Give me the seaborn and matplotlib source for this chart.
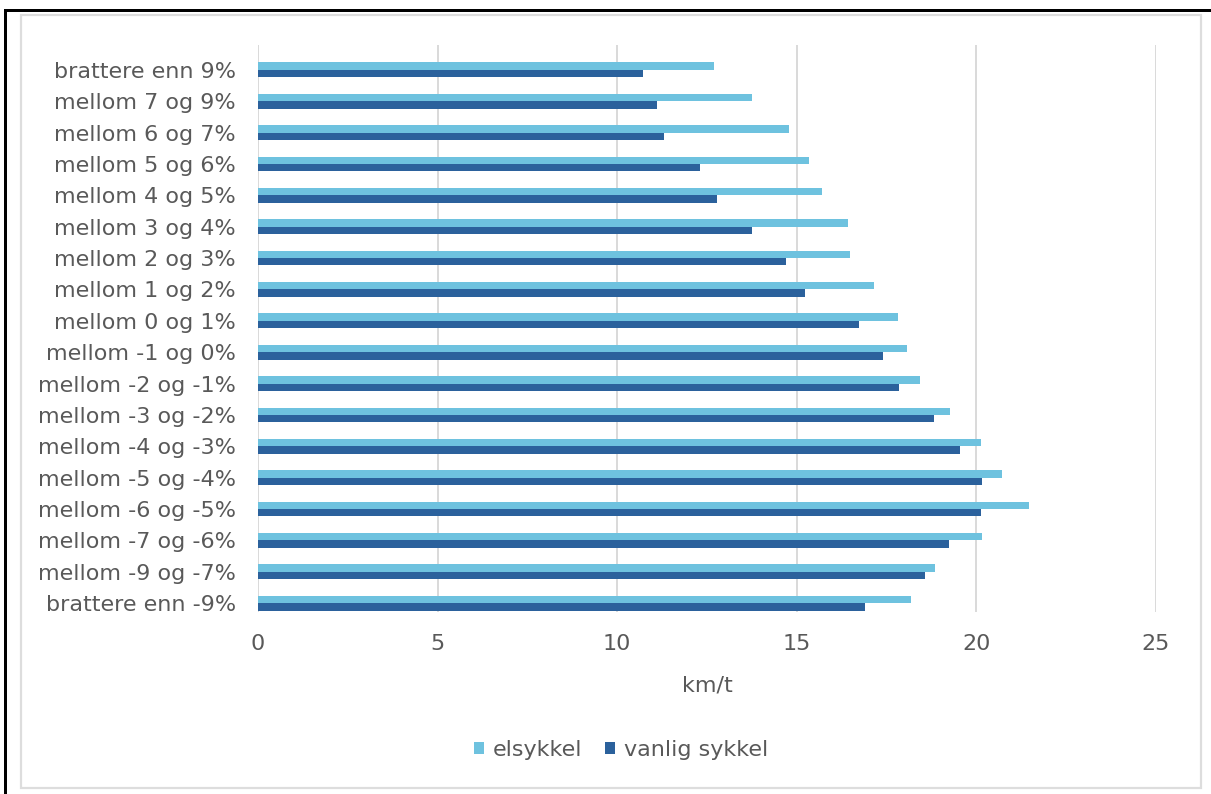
import matplotlib
matplotlib.use("Agg")
import matplotlib.pyplot as plt
from matplotlib.patches import Rectangle, Patch
import pandas as pd
import seaborn as sns

# Gradient classes (steepest uphill first) and average speeds in km/t
categories = [
    "brattere enn 9%", "mellom 7 og 9%", "mellom 6 og 7%", "mellom 5 og 6%",
    "mellom 4 og 5%", "mellom 3 og 4%", "mellom 2 og 3%", "mellom 1 og 2%",
    "mellom 0 og 1%", "mellom -1 og 0%", "mellom -2 og -1%", "mellom -3 og -2%",
    "mellom -4 og -3%", "mellom -5 og -4%", "mellom -6 og -5%", "mellom -7 og -6%",
    "mellom -9 og -7%", "brattere enn -9%",
]
elsykkel = [12.70, 13.76, 14.78, 15.34, 15.69, 16.43, 16.48, 17.16, 17.81,
            18.08, 18.44, 19.27, 20.13, 20.70, 21.47, 20.16, 18.86, 18.17]
vanlig_sykkel = [10.73, 11.10, 11.31, 12.31, 12.77, 13.75, 14.70, 15.23, 16.73,
                 17.41, 17.85, 18.81, 19.54, 20.15, 20.12, 19.25, 18.57, 16.90]
series_names = ["elsykkel", "vanlig sykkel"]
x_ticks = [0, 5, 10, 15, 20, 25]

df = pd.DataFrame({
    "kategori": categories * 2,
    "fart": elsykkel + vanlig_sykkel,
    "type": [series_names[0]] * len(categories) + [series_names[1]] * len(categories),
})

colors = {"elsykkel": "#6EC2DF", "vanlig sykkel": "#2B619C"}
text_color = "#595959"
grid_color = "#D9D9D9"
fs = 16

sns.set_theme(style="white")
plt.rcParams["font.family"] = ["DejaVu Sans"]

W, H = 1211, 794
fig = plt.figure(figsize=(W / 100, H / 100), dpi=100)
fig.patch.set_facecolor("white")

# plot area in pixel terms
left_px, right_px, top_px, bottom_px = 258, 1156, 45, 612
ax = fig.add_axes([left_px / W, 1 - bottom_px / H,
                   (right_px - left_px) / W, (bottom_px - top_px) / H])

sns.barplot(data=df, y="kategori", x="fart", hue="type", order=categories,
            hue_order=series_names, palette=colors, orient="h",
            width=0.47, gap=0, dodge=True, legend=False, ax=ax,
            saturation=1, linewidth=0)

ax.set_xlim(0, 25)
ax.set_ylim(17.28, -0.79)
ax.set_xticks(x_ticks)
ax.set_xticklabels([str(t) for t in x_ticks])
ax.grid(axis="x", color=grid_color, linewidth=1.4)
ax.grid(axis="y", visible=False)
ax.set_axisbelow(True)
for s in ax.spines.values():
    s.set_visible(False)
ax.tick_params(axis="both", length=0, colors=text_color, labelsize=fs)
ax.tick_params(axis="x", pad=15.5)
ax.tick_params(axis="y", pad=16)
ax.set_ylabel("")
ax.set_xlabel("km/t", color=text_color, fontsize=fs, labelpad=16)

# legend below the plot
handles = [Patch(facecolor=colors[n], edgecolor="none") for n in series_names]
fig.legend(handles, series_names, loc="center", ncol=2,
           bbox_to_anchor=(621 / W, 1 - 750 / H), frameon=False,
           fontsize=fs, labelcolor=text_color, handlelength=0.45,
           handleheight=0.5, handletextpad=0.4, columnspacing=1.0)

# chart-area border and outer frame
fig.add_artist(Rectangle((21 / W, 1 - 788 / H), (1201 - 21) / W, (788 - 15) / H,
                         transform=fig.transFigure, fill=False,
                         edgecolor="#DDDDDD", linewidth=1.6))
fig.add_artist(Rectangle((4 / W, 1 - 12 / H), (W - 4) / W, 3 / H,
                         transform=fig.transFigure, facecolor="black",
                         edgecolor="none"))
fig.add_artist(Rectangle((4 / W, 0), 3 / W, 1 - 10 / H,
                         transform=fig.transFigure, facecolor="black",
                         edgecolor="none"))

fig.savefig("out.png", dpi=100, facecolor="white")
